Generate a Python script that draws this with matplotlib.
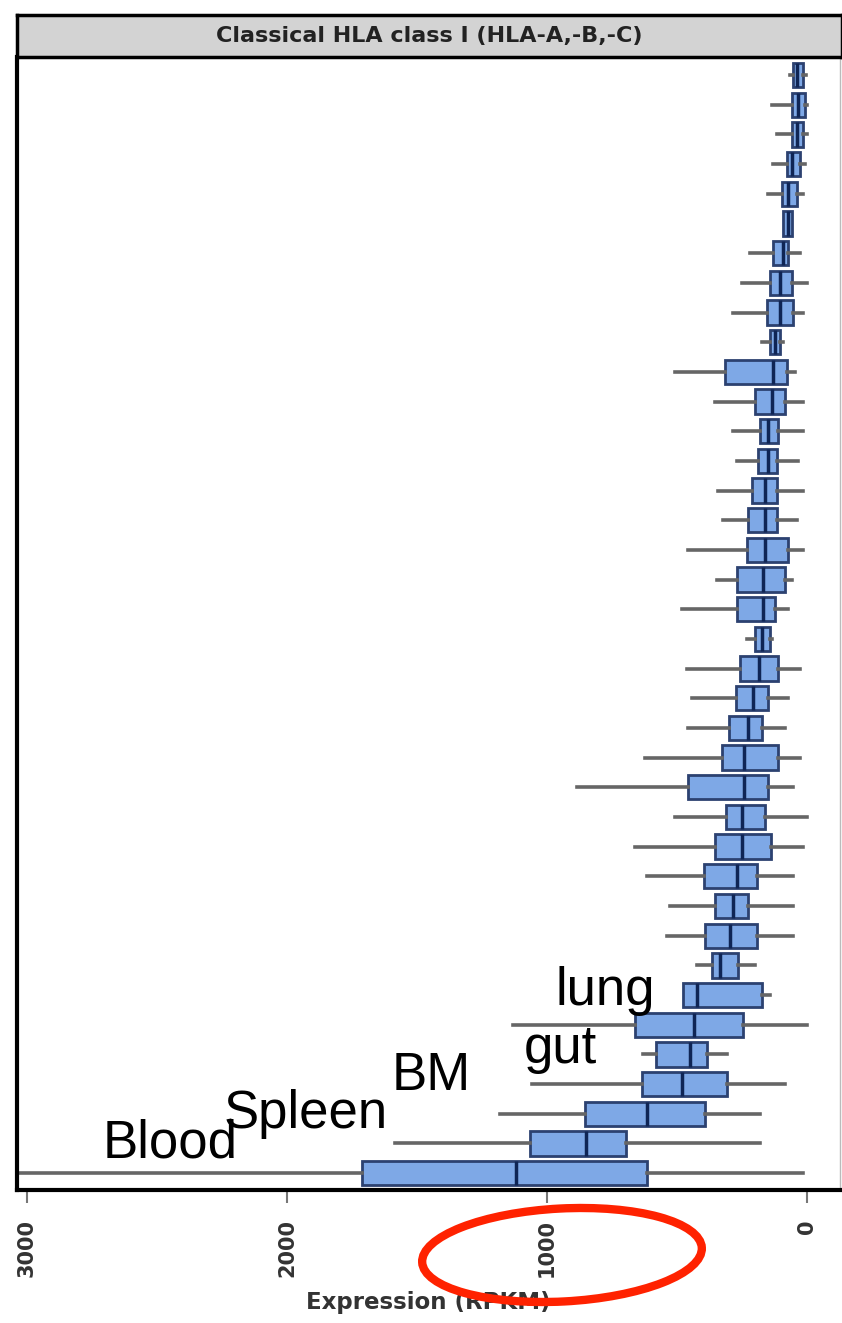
import matplotlib.pyplot as plt
from matplotlib.patches import Ellipse

# five-number summaries, top row first (RPKM)
whis_hi = [65, 135, 115, 131, 150, 92, 219, 250, 285, 173, 508, 354, 285, 269, 342, 323, 458, 346, 481, 231,
           462, 442, 458, 623, 885, 508, 662, 615, 527, 538, 423, 477, 1131, 631, 1058, 1181, 1585, 3400]
q3 = [54, 58, 58, 77, 96, 92, 131, 142, 154, 142, 315, 200, 181, 188, 212, 227, 231, 269, 269, 200,
      258, 273, 300, 327, 458, 312, 354, 396, 354, 392, 365, 477, 662, 581, 635, 854, 1065, 1711]
med = [38, 35, 38, 58, 73, 73, 92, 104, 104, 123, 131, 135, 150, 150, 162, 162, 162, 169, 169, 173,
       185, 208, 227, 242, 242, 250, 250, 269, 285, 296, 335, 423, 435, 450, 481, 615, 850, 1119]
q1 = [15, 8, 15, 27, 38, 58, 73, 58, 54, 104, 77, 85, 112, 115, 115, 115, 73, 85, 123, 142,
      112, 150, 173, 112, 150, 162, 138, 192, 227, 192, 265, 173, 246, 385, 308, 392, 696, 615]
whis_lo = [4, 0, 0, 8, 15, 58, 27, 0, 15, 92, 46, 15, 15, 35, 15, 38, 15, 58, 73, 135,
           27, 73, 85, 27, 54, 0, 15, 54, 54, 54, 200, 142, 0, 308, 85, 181, 181, 15]

tissues = ["Blood", "Spleen", "BM", "gut", "lung"]
x_ticks = [3000, 2000, 1000, 0]

fig = plt.figure(figsize=(8.42, 13.23), dpi=100)
W, H = 842, 1323
ax = fig.add_axes([17 / W, 133 / H, (840 - 17) / W, (1190 - 57) / H])

stats = []
for i in range(len(med)):
    stats.append(dict(whislo=whis_lo[i], q1=q1[i], med=med[i], q3=q3[i], whishi=whis_hi[i]))

ax.bxp(stats, positions=range(1, len(stats) + 1), widths=0.82, orientation='horizontal',
       patch_artist=True, showcaps=False, showfliers=False,
       boxprops=dict(facecolor='#7ea8e6', edgecolor='#2c4170', linewidth=2),
       whiskerprops=dict(color='#666666', linewidth=2.6),
       medianprops=dict(color='#0f2555', linewidth=2.5))

ax.set_xlim(3038, -127)
ax.set_ylim(38.57, 0.39)
ax.set_yticks([])
ax.set_xticks(x_ticks)
ax.set_xticklabels([str(t) for t in x_ticks], rotation=90, fontsize=15,
                   fontweight='bold', color='#333333')
ax.tick_params(axis='x', length=9, width=1.5, color='#777777', pad=12)
ax.set_xlabel("Expression (RPKM)", fontsize=16.5, fontweight='bold', color='#333333', labelpad=10)
for s in ['left', 'bottom']:
    ax.spines[s].set_linewidth(3)
ax.spines['top'].set_visible(False)
ax.spines['right'].set_color('#bbbbbb')
ax.spines['right'].set_linewidth(1)

# tissue labels
label_pos = [(2708, 37.49), (2242, 36.48), (1596, 35.2), (1088, 34.29), (969, 32.33)]
for name, (x, y) in zip(tissues, label_pos):
    ax.text(x, y, name, fontsize=38, family=['Liberation Sans', 'DejaVu Sans'],
            ha='left', va='baseline', color='black')

# title strip
strip = fig.add_axes([17 / W, (H - 57) / H, (842 - 17) / W, 42 / H])
strip.set_facecolor('#d3d3d3')
strip.set_xticks([])
strip.set_yticks([])
for s in strip.spines.values():
    s.set_linewidth(2.5)
strip.text(0.5, 0.5, "Classical HLA class I (HLA-A,-B,-C)", ha='center', va='center',
           fontsize=16, fontweight='bold', color='#222222',
           family=['Liberation Sans Narrow', 'DejaVu Sans'])

# red hand-drawn circle round the 1000 tick
fig.patches.append(Ellipse((5.62, (H - 1255) / 100), 2.8, 0.93, angle=3,
                           transform=fig.dpi_scale_trans, fill=False,
                           edgecolor='#ff2200', linewidth=6))

fig.savefig("out.png", dpi=100)
